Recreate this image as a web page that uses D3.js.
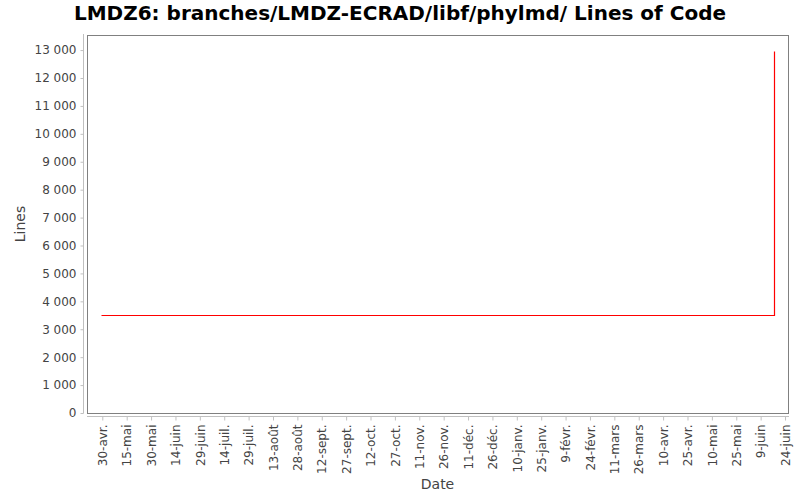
<!DOCTYPE html>
<html>
<head>
<meta charset="utf-8">
<script src="https://cdn.jsdelivr.net/npm/d3@7"></script>
<style>
  body { margin: 0; background: #fff; }
  text { font-family: "DejaVu Sans", sans-serif; }
</style>
</head>
<body>
<div id="chart"></div>
<script>
// data
const dates = ["2022-04-29", "2023-06-17", "2023-06-17"];
const lineCounts = [3498, 3498, 12980];
const tickDates = ["2022-04-30", "2022-05-15", "2022-05-30", "2022-06-14", "2022-06-29",
  "2022-07-14", "2022-07-29", "2022-08-13", "2022-08-28", "2022-09-12", "2022-09-27",
  "2022-10-12", "2022-10-27", "2022-11-11", "2022-11-26", "2022-12-11", "2022-12-26",
  "2023-01-10", "2023-01-25", "2023-02-09", "2023-02-24", "2023-03-11", "2023-03-26",
  "2023-04-10", "2023-04-25", "2023-05-10", "2023-05-25", "2023-06-09", "2023-06-24"];
const yTicks = d3.range(0, 14000, 1000);

const parse = d3.timeParse("%Y-%m-%d");
const data = dates.map((d, i) => ({ date: parse(d), value: lineCounts[i] }));

const width = 800, height = 500;
const plotLeft = 87, plotRight = 788, plotTop = 35, plotBottom = 413;

const fr = d3.timeFormatLocale({
  dateTime: "%A %e %B %Y à %X", date: "%d/%m/%Y", time: "%H:%M:%S",
  periods: ["AM", "PM"],
  days: ["dimanche", "lundi", "mardi", "mercredi", "jeudi", "vendredi", "samedi"],
  shortDays: ["dim.", "lun.", "mar.", "mer.", "jeu.", "ven.", "sam."],
  months: ["janvier", "février", "mars", "avril", "mai", "juin", "juillet", "août", "septembre", "octobre", "novembre", "décembre"],
  shortMonths: ["janv.", "févr.", "mars", "avr.", "mai", "juin", "juil.", "août", "sept.", "oct.", "nov.", "déc."]
});
const numFr = d3.formatLocale({ decimal: ",", thousands: " ", grouping: [3], currency: ["", ""] });

const svg = d3.select("#chart").append("svg")
  .attr("width", width)
  .attr("height", height);

const x = d3.scaleTime()
  .domain([new Date(2022, 3, 20, 14), new Date(2023, 5, 25, 20)])
  .range([plotLeft, plotRight]);

const y = d3.scaleLinear()
  .domain([0, 13540])
  .range([plotBottom, plotTop]);

// plot background + border
svg.append("rect")
  .attr("x", plotLeft + 0.5).attr("y", plotTop + 0.5)
  .attr("width", plotRight - plotLeft).attr("height", plotBottom - plotTop)
  .attr("fill", "#fff")
  .attr("stroke", "#808080");

// y axis
const yAxis = svg.append("g")
  .attr("transform", `translate(${plotLeft - 3.5},0)`)
  .call(d3.axisLeft(y).tickValues(yTicks).tickFormat(numFr.format(",d")).tickSizeInner(3).tickSizeOuter(0).tickPadding(4));
yAxis.select(".domain").attr("stroke", "#c0c0c0").attr("d", `M0,${plotTop - 1}V${plotBottom + 0.5}`);
yAxis.selectAll(".tick line").attr("stroke", "#c0c0c0");
yAxis.selectAll("text").attr("fill", "#444").style("font-size", "12px");

// x axis
const xAxis = svg.append("g")
  .attr("transform", `translate(0,${plotBottom + 3.5})`)
  .call(d3.axisBottom(x).tickValues(tickDates.map(parse)).tickFormat(fr.format("%-d-%b")).tickSizeInner(4).tickSizeOuter(0));
xAxis.select(".domain").attr("stroke", "#c0c0c0").attr("d", `M${plotLeft},0H${plotRight + 1}`);
xAxis.selectAll(".tick line").attr("stroke", "#c0c0c0");
xAxis.selectAll("text")
  .attr("fill", "#444")
  .style("font-size", "12px")
  .attr("transform", "rotate(-90)")
  .attr("text-anchor", "end")
  .attr("x", -8)
  .attr("y", 0)
  .attr("dy", "0.35em");

// series (snapped to pixel centres so the 1px line stays pure red)
const line = d3.line()
  .x(d => Math.round(x(d.date)) + 0.5)
  .y(d => Math.round(y(d.value)) + 0.5);

svg.append("path")
  .datum(data)
  .attr("d", line)
  .attr("fill", "none")
  .attr("stroke", "#ff0000")
  .attr("stroke-width", 1.2);

// titles
svg.append("text")
  .attr("x", width / 2).attr("y", 20)
  .attr("text-anchor", "middle")
  .style("font-size", "20px").style("font-weight", "bold")
  .attr("fill", "#000")
  .text("LMDZ6: branches/LMDZ-ECRAD/libf/phylmd/ Lines of Code");

svg.append("text")
  .attr("x", (plotLeft + plotRight) / 2).attr("y", 489)
  .attr("text-anchor", "middle")
  .style("font-size", "14px")
  .attr("fill", "#444")
  .text("Date");

svg.append("text")
  .attr("transform", `translate(25,${(plotTop + plotBottom) / 2}) rotate(-90)`)
  .attr("text-anchor", "middle")
  .style("font-size", "14px")
  .attr("fill", "#444")
  .text("Lines");
</script>
</body>
</html>
